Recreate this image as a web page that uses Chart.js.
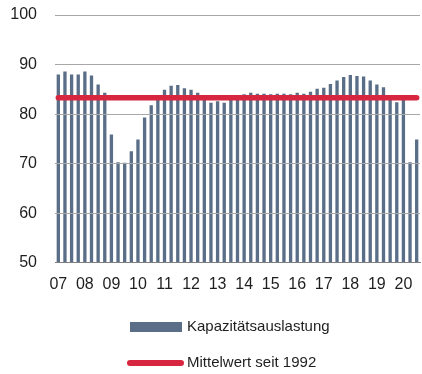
<!DOCTYPE html>
<html>
<head>
<meta charset="utf-8">
<script src="https://cdn.jsdelivr.net/npm/chart.js@4/dist/chart.umd.min.js"></script>
<style>
  html, body { margin: 0; padding: 0; background: #ffffff; }
  #wrap { width: 422px; height: 374px; }
</style>
</head>
<body>
<div id="wrap"><canvas id="chart" width="422" height="374"></canvas></div>
<script>
// Quarterly capacity utilisation, 2007 Q1 – 2020 Q3
const years = ['07', '08', '09', '10', '11', '12', '13', '14', '15', '16', '17', '18', '19', '20'];
const quarters = ['Q1', 'Q2', 'Q3', 'Q4'];

const utilisation = [
  88.0, 88.6, 88.0, 88.0,   // 2007
  88.6, 87.8, 86.0, 84.3,   // 2008
  75.9, 70.3, 70.2, 72.5,   // 2009
  74.9, 79.3, 81.8, 83.5,   // 2010
  84.9, 85.7, 85.9, 85.2,   // 2011
  84.9, 84.3, 83.2, 82.3,   // 2012
  82.6, 82.3, 83.0, 83.4,   // 2013
  84.0, 84.3, 84.1, 84.1,   // 2014
  84.0, 84.1, 84.1, 84.0,   // 2015
  84.3, 84.1, 84.5, 85.1,   // 2016
  85.3, 86.1, 86.8, 87.5,   // 2017
  87.9, 87.7, 87.6, 86.8,   // 2018
  86.0, 85.4, 83.8, 82.4,   // 2019
  83.0, 70.3, 74.9          // 2020
];

const longRunMean = 83.3;   // average since 1992

const yTicks = [50, 60, 70, 80, 90, 100];

const seriesNames = ['Kapazitätsauslastung', 'Mittelwert seit 1992'];

// category axis: one entry per quarter
const categories = years.flatMap(y => quarters.map(q => y + q)).slice(0, utilisation.length);
const meanSeries = categories.map(() => longRunMean);

const barColor = '#5a6e87';
const meanColor = '#d7263f';
const textColor = '#1e1e1e';
const fontFamily = '"Liberation Sans", Arial, Helvetica, sans-serif';

// vertical legend below the plot
const stackedLegend = {
  id: 'stackedLegend',
  afterDraw(chart) {
    const ctx = chart.ctx;
    const x0 = 130, swatchW = 52, textX = 187;
    const rows = [327, 363];
    ctx.save();
    ctx.font = '15px ' + fontFamily;
    ctx.textBaseline = 'middle';
    ctx.textAlign = 'left';

    // bar swatch
    ctx.fillStyle = barColor;
    ctx.fillRect(x0, rows[0] - 5, swatchW, 10);
    ctx.fillStyle = textColor;
    ctx.fillText(seriesNames[0], textX, rows[0]);

    // line swatch
    ctx.strokeStyle = meanColor;
    ctx.lineWidth = 6;
    ctx.lineCap = 'round';
    ctx.beginPath();
    ctx.moveTo(x0, rows[1]);
    ctx.lineTo(x0 + swatchW - 1, rows[1]);
    ctx.stroke();
    ctx.fillText(seriesNames[1], textX, rows[1]);
    ctx.restore();
  }
};

new Chart(document.getElementById('chart'), {
  type: 'bar',
  data: {
    labels: categories,
    datasets: [
      {
        type: 'line',
        label: seriesNames[1],
        data: meanSeries,
        borderColor: meanColor,
        borderWidth: 5.5,
        borderCapStyle: 'round',
        pointRadius: 0,
        fill: false,
        order: 0
      },
      {
        type: 'bar',
        label: seriesNames[0],
        data: utilisation,
        backgroundColor: barColor,
        borderWidth: 0,
        categoryPercentage: 1.0,
        barPercentage: 0.5,
        order: 1
      }
    ]
  },
  options: {
    responsive: false,
    animation: false,
    devicePixelRatio: 1,
    layout: { padding: { left: 0, right: 2, top: 15, bottom: 77 } },
    plugins: {
      legend: { display: false },
      tooltip: { enabled: false }
    },
    scales: {
      x: {
        grid: {
          display: true,
          drawOnChartArea: false,
          drawTicks: true,
          tickLength: 9,
          tickColor: 'rgba(0,0,0,0)',
          color: 'rgba(0,0,0,0)'
        },
        border: { display: true, color: '#808080', width: 1 },
        ticks: {
          autoSkip: false,
          maxRotation: 0,
          minRotation: 0,
          padding: 3,
          color: textColor,
          font: { family: fontFamily, size: 16 },
          callback: (v, i) => (i % 4 === 0 ? years[i / 4] : '')
        }
      },
      y: {
        min: 50,
        max: 100,
        afterBuildTicks: (scale) => { scale.ticks = yTicks.map(v => ({ value: v })); },
        afterFit: (scale) => { scale.width = 55; },
        grid: {
          drawTicks: true,
          tickLength: 15,
          tickColor: 'rgba(0,0,0,0)',
          z: 1,
          color: (c) => (c.tick && c.tick.value === 50 ? '#808080' : '#a8a8a8'),
          lineWidth: 1
        },
        border: { display: false },
        ticks: {
          padding: 3,
          color: textColor,
          font: { family: fontFamily, size: 16 }
        }
      }
    }
  },
  plugins: [stackedLegend]
});
</script>
</body>
</html>
